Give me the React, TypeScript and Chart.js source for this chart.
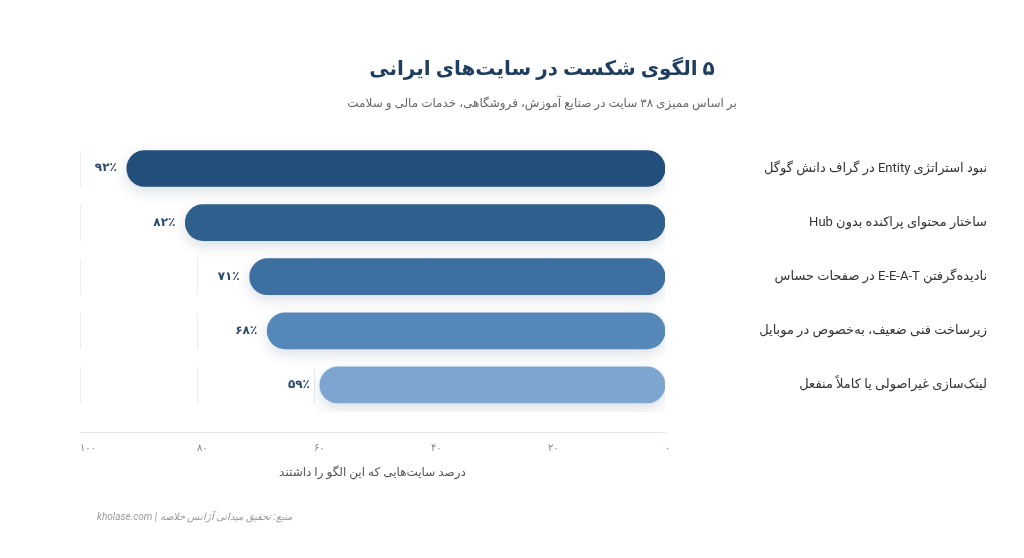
import { useEffect, useRef } from "react";
import { Chart, registerables } from "chart.js";

Chart.register(...registerables);

const FONT = "Roboto, 'DejaVu Sans', sans-serif";

const categories = [
  "نبود استراتژی Entity در گراف دانش گوگل",
  "ساختار محتوای پراکنده بدون Hub",
  "نادیده‌گرفتن E-E-A-T در صفحات حساس",
  "زیرساخت فنی ضعیف، به‌خصوص در موبایل",
  "لینک‌سازی غیراصولی یا کاملاً منفعل",
];
const shares = [92, 82, 71, 68, 59];
const barColors = ["#224e7b", "#2e5f8d", "#3d6fa1", "#5687b9", "#7ca6cf"];
const xTicks = [0, 20, 40, 60, 80, 100];
const xTickLabels = ["۰", "۲۰", "۴۰", "۶۰", "۸۰", "۱۰۰"];

const TITLE = "۵ الگوی شکست در سایت‌های ایرانی";
const SUBTITLE = "بر اساس ممیزی ۳۸ سایت در صنایع آموزش، فروشگاهی، خدمات مالی و سلامت";
const X_TITLE = "درصد سایت‌هایی که این الگو را داشتند";
const SOURCE = "منبع: تحقیق میدانی آژانس خلاصه | kholase.com";

const toFa = (n: number) =>
  String(n).replace(/\d/g, (d) => "۰۱۲۳۴۵۶۷۸۹"[Number(d)]);

// vertical grid lines only inside each bar's row
const rowGrid = {
  id: "rowGrid",
  beforeDatasetsDraw(chart: any) {
    const { ctx } = chart;
    const x = chart.scales.x;
    const bars = chart.getDatasetMeta(0).data;
    ctx.save();
    ctx.strokeStyle = "#e9ecf0";
    ctx.lineWidth = 1;
    xTicks.forEach((t) => {
      if (t === 0) return;
      const px = Math.round(x.getPixelForValue(t)) + 0.5;
      bars.forEach((b: any) => {
        const { y, height } = b.getProps(["y", "height"], true);
        ctx.beginPath();
        ctx.moveTo(px, y - height / 2);
        ctx.lineTo(px, y + height / 2);
        ctx.stroke();
      });
    });
    ctx.restore();
  },
};

const barShadow = {
  id: "barShadow",
  beforeDatasetDraw(chart: any) {
    const { ctx } = chart;
    ctx.save();
    ctx.shadowColor = "rgba(25, 55, 95, 0.16)";
    ctx.shadowBlur = 14;
    ctx.shadowOffsetY = 5;
  },
  afterDatasetDraw(chart: any) {
    chart.ctx.restore();
  },
};

const valueLabels = {
  id: "valueLabels",
  afterDatasetsDraw(chart: any) {
    const { ctx } = chart;
    const bars = chart.getDatasetMeta(0).data;
    ctx.save();
    ctx.font = `bold 12px ${FONT}`;
    ctx.fillStyle = "#2b4a6d";
    ctx.textAlign = "right";
    ctx.textBaseline = "middle";
    bars.forEach((b: any, i: number) => {
      const { x, y, base } = b.getProps(["x", "y", "base"], true);
      ctx.fillText(toFa(shares[i]) + "٪", Math.min(x, base) - 10, y);
    });
    ctx.restore();
  },
};

const sourceNote = {
  id: "sourceNote",
  afterDraw(chart: any) {
    const { ctx } = chart;
    ctx.save();
    ctx.font = `italic 10px ${FONT}`;
    ctx.fillStyle = "#999";
    ctx.textAlign = "left";
    ctx.textBaseline = "middle";
    ctx.fillText(SOURCE, chart.chartArea.left + 17, 517);
    ctx.restore();
  },
};

const hidden = {
  display: true,
  grid: { display: false, drawTicks: false },
  border: { display: false },
  ticks: { display: false },
};

export default function App() {
  const canvasRef = useRef<HTMLCanvasElement | null>(null);
  const chartRef = useRef<Chart | null>(null);

  useEffect(() => {
    if (!canvasRef.current) return;
    chartRef.current?.destroy();
    chartRef.current = new Chart(canvasRef.current, {
      type: "bar",
      data: {
        labels: categories,
        datasets: [
          {
            data: shares,
            backgroundColor: barColors,
            borderRadius: 18,
            borderSkipped: false,
            barThickness: 36,
            xAxisID: "x",
            yAxisID: "y",
          },
        ],
      },
      plugins: [rowGrid, barShadow, valueLabels, sourceNote],
      options: {
        indexAxis: "y",
        animation: false,
        responsive: true,
        maintainAspectRatio: false,
        layout: { padding: { left: 80, right: 20, top: 0, bottom: 77.6 } },
        plugins: {
          legend: { display: false },
          tooltip: { enabled: false },
          title: {
            display: true,
            text: TITLE,
            color: "#1f3d5e",
            font: { family: FONT, size: 20, weight: "bold" },
            padding: { top: 58, bottom: 15 },
          },
          subtitle: {
            display: true,
            text: SUBTITLE,
            color: "#666",
            font: { family: FONT, size: 12 },
            padding: { top: 0, bottom: 30 },
          },
        },
        scales: {
          x: {
            type: "linear",
            position: "bottom",
            weight: 1,
            min: 0,
            max: 100,
            reverse: true,
            grid: { display: false, drawTicks: false },
            border: { display: true, color: "#e3e6ea", width: 1 },
            ticks: {
              stepSize: 20,
              align: "start",
              padding: 10,
              color: "#888",
              font: { family: FONT, size: 10 },
              callback: (v: any) => xTickLabels[xTicks.indexOf(Number(v))] ?? "",
            },
            title: {
              display: true,
              text: X_TITLE,
              color: "#555",
              font: { family: FONT, size: 12 },
              padding: { top: 2, bottom: 0 },
            },
          },
          xGap: {
            type: "linear",
            position: "bottom",
            weight: 0,
            ...hidden,
            afterFit: (s: any) => {
              s.height = 20;
            },
          },
          y: {
            type: "category",
            position: "right",
            weight: 0,
            grid: { display: false, drawTicks: false },
            border: { display: false },
            ticks: {
              crossAlign: "far",
              color: "#333",
              font: { family: FONT, size: 13 },
            },
            afterFit: (s: any) => {
              s.width = 322;
            },
          },
          yGap: {
            type: "category",
            position: "right",
            weight: 1,
            ...hidden,
            afterFit: (s: any) => {
              s.width = 17;
            },
          },
        },
      } as any,
    });
    return () => {
      chartRef.current?.destroy();
      chartRef.current = null;
    };
  }, []);

  return (
    <div
      style={{
        position: "fixed",
        left: 0,
        top: 0,
        width: 1024,
        height: 558,
        background: "#fff",
      }}
    >
      <canvas ref={canvasRef} style={{ direction: "rtl" }} />
    </div>
  );
}
